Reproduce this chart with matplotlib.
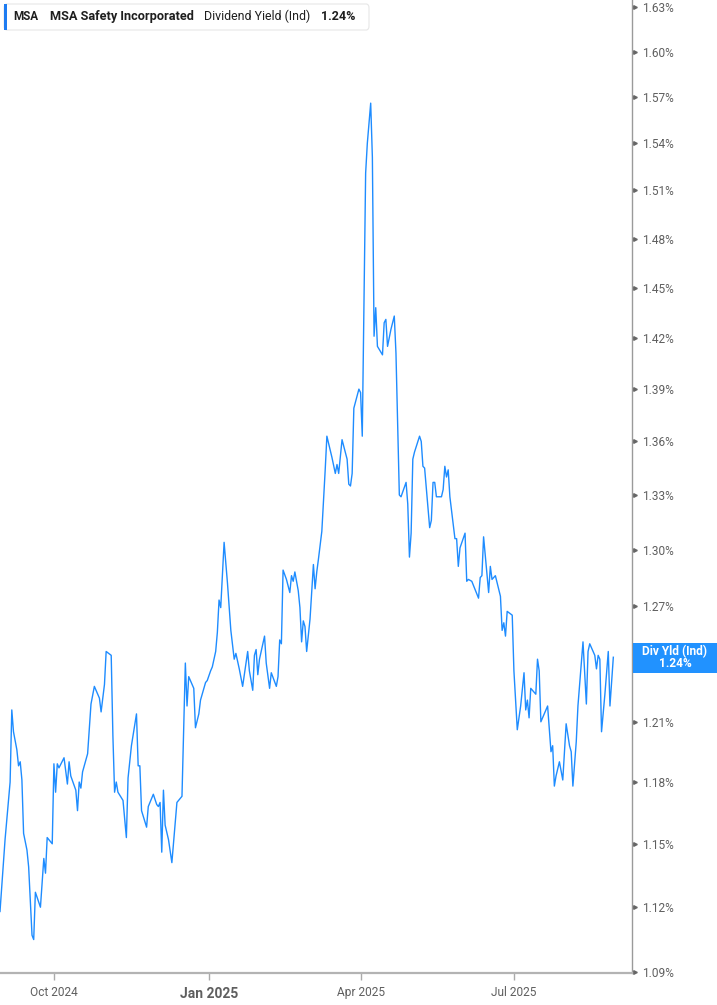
import matplotlib
matplotlib.use("Agg")
import matplotlib.pyplot as plt
import matplotlib.ticker as mticker
import matplotlib.transforms as mtransforms
from matplotlib.patches import FancyBboxPatch, Rectangle
import pandas as pd

plt.rcParams['font.family'] = ['Roboto', 'DejaVu Sans']

ticker_sym = "MSA"
company = "MSA Safety Incorporated"
metric = "Dividend Yield (Ind)"
last_label = "1.24%"
badge_title = "Div Yld (Ind)"

dates = [
    "2024-08-30", "2024-08-31", "2024-09-02", "2024-09-05", "2024-09-06", "2024-09-07",
    "2024-09-09", "2024-09-10", "2024-09-11", "2024-09-12", "2024-09-13", "2024-09-15",
    "2024-09-16", "2024-09-18", "2024-09-19", "2024-09-20", "2024-09-23", "2024-09-25",
    "2024-09-26", "2024-09-27", "2024-09-30", "2024-10-01", "2024-10-02", "2024-10-03",
    "2024-10-04", "2024-10-07", "2024-10-09", "2024-10-10", "2024-10-11", "2024-10-14",
    "2024-10-15", "2024-10-16", "2024-10-17", "2024-10-18", "2024-10-21", "2024-10-23",
    "2024-10-25", "2024-10-28", "2024-10-29", "2024-10-31", "2024-11-01", "2024-11-04",
    "2024-11-05", "2024-11-06", "2024-11-07", "2024-11-08", "2024-11-11", "2024-11-13",
    "2024-11-14", "2024-11-16", "2024-11-19", "2024-11-20", "2024-11-21", "2024-11-22",
    "2024-11-25", "2024-11-26", "2024-11-29", "2024-12-01", "2024-12-02", "2024-12-03",
    "2024-12-04", "2024-12-05", "2024-12-06", "2024-12-08", "2024-12-10", "2024-12-13",
    "2024-12-16", "2024-12-17", "2024-12-18", "2024-12-19", "2024-12-20", "2024-12-23",
    "2024-12-24", "2024-12-26", "2024-12-27", "2024-12-30", "2024-12-31", "2025-01-02",
    "2025-01-03", "2025-01-05", "2025-01-06", "2025-01-07", "2025-01-08", "2025-01-10",
    "2025-01-12", "2025-01-14", "2025-01-16", "2025-01-17", "2025-01-19", "2025-01-21",
    "2025-01-24", "2025-01-25", "2025-01-27", "2025-01-28", "2025-01-29", "2025-01-30",
    "2025-01-31", "2025-02-03", "2025-02-04", "2025-02-06", "2025-02-07", "2025-02-10",
    "2025-02-11", "2025-02-12", "2025-02-13", "2025-02-14", "2025-02-16", "2025-02-18",
    "2025-02-19", "2025-02-20", "2025-02-21", "2025-02-23", "2025-02-24", "2025-02-25",
    "2025-02-26", "2025-02-27", "2025-02-28", "2025-03-02", "2025-03-03", "2025-03-04",
    "2025-03-05", "2025-03-06", "2025-03-07", "2025-03-09", "2025-03-11", "2025-03-12",
    "2025-03-15", "2025-03-17", "2025-03-18", "2025-03-19", "2025-03-21", "2025-03-24",
    "2025-03-25", "2025-03-26", "2025-03-27", "2025-03-28", "2025-03-31", "2025-04-01",
    "2025-04-02", "2025-04-04", "2025-04-05", "2025-04-07", "2025-04-08", "2025-04-09",
    "2025-04-10", "2025-04-11", "2025-04-14", "2025-04-15", "2025-04-16", "2025-04-17",
    "2025-04-19", "2025-04-21", "2025-04-22", "2025-04-24", "2025-04-25", "2025-04-28",
    "2025-04-29", "2025-04-30", "2025-05-01", "2025-05-02", "2025-05-03", "2025-05-06",
    "2025-05-07", "2025-05-08", "2025-05-09", "2025-05-11", "2025-05-12", "2025-05-13",
    "2025-05-14", "2025-05-15", "2025-05-16", "2025-05-19", "2025-05-20", "2025-05-21",
    "2025-05-22", "2025-05-23", "2025-05-24", "2025-05-27", "2025-05-28", "2025-05-29",
    "2025-05-30", "2025-06-02", "2025-06-03", "2025-06-04", "2025-06-06", "2025-06-10",
    "2025-06-11", "2025-06-12", "2025-06-13", "2025-06-14", "2025-06-16", "2025-06-17",
    "2025-06-18", "2025-06-20", "2025-06-23", "2025-06-24", "2025-06-25", "2025-06-26",
    "2025-06-27", "2025-06-30", "2025-07-01", "2025-07-03", "2025-07-05", "2025-07-07",
    "2025-07-08", "2025-07-09", "2025-07-10", "2025-07-11", "2025-07-14", "2025-07-15",
    "2025-07-16", "2025-07-17", "2025-07-21", "2025-07-23", "2025-07-24", "2025-07-25",
    "2025-07-26", "2025-07-28", "2025-07-30", "2025-08-01", "2025-08-03", "2025-08-04",
    "2025-08-05", "2025-08-07", "2025-08-08", "2025-08-11", "2025-08-13", "2025-08-14",
    "2025-08-15", "2025-08-18", "2025-08-19", "2025-08-20", "2025-08-21", "2025-08-22",
    "2025-08-24", "2025-08-26", "2025-08-27", "2025-08-29",
]

div_yield = [
    1.118, 1.129, 1.152, 1.180, 1.216, 1.205,
    1.196, 1.188, 1.190, 1.181, 1.155, 1.147,
    1.139, 1.107, 1.105, 1.127, 1.120, 1.143,
    1.136, 1.153, 1.150, 1.189, 1.175, 1.189,
    1.187, 1.192, 1.179, 1.190, 1.183, 1.176,
    1.166, 1.180, 1.177, 1.185, 1.194, 1.219,
    1.228, 1.222, 1.215, 1.229, 1.246, 1.244,
    1.203, 1.175, 1.180, 1.175, 1.171, 1.153,
    1.182, 1.198, 1.214, 1.188, 1.188, 1.166,
    1.158, 1.168, 1.174, 1.169, 1.168, 1.170,
    1.146, 1.176, 1.159, 1.152, 1.141, 1.170,
    1.173, 1.207, 1.240, 1.218, 1.233, 1.227,
    1.207, 1.214, 1.221, 1.230, 1.231, 1.236,
    1.238, 1.246, 1.256, 1.273, 1.269, 1.304,
    1.282, 1.257, 1.242, 1.245, 1.237, 1.228,
    1.246, 1.236, 1.226, 1.244, 1.247, 1.234,
    1.242, 1.254, 1.240, 1.227, 1.235, 1.228,
    1.233, 1.252, 1.250, 1.289, 1.284, 1.277,
    1.286, 1.283, 1.288, 1.278, 1.269, 1.251,
    1.262, 1.259, 1.246, 1.263, 1.277, 1.292,
    1.279, 1.288, 1.295, 1.310, 1.344, 1.363,
    1.351, 1.342, 1.347, 1.342, 1.361, 1.350,
    1.336, 1.335, 1.342, 1.379, 1.390, 1.388,
    1.363, 1.521, 1.540, 1.566, 1.531, 1.421,
    1.438, 1.415, 1.410, 1.429, 1.431, 1.415,
    1.425, 1.433, 1.411, 1.330, 1.329, 1.337,
    1.325, 1.296, 1.309, 1.350, 1.354, 1.363,
    1.360, 1.346, 1.345, 1.323, 1.312, 1.316,
    1.337, 1.337, 1.329, 1.329, 1.333, 1.346,
    1.340, 1.344, 1.329, 1.306, 1.306, 1.291,
    1.301, 1.309, 1.283, 1.284, 1.283, 1.274,
    1.285, 1.286, 1.307, 1.297, 1.277, 1.291,
    1.284, 1.286, 1.275, 1.257, 1.261, 1.254,
    1.267, 1.265, 1.236, 1.206, 1.218, 1.235,
    1.216, 1.221, 1.212, 1.227, 1.224, 1.242,
    1.236, 1.210, 1.218, 1.195, 1.198, 1.178,
    1.183, 1.190, 1.181, 1.209, 1.198, 1.195,
    1.178, 1.200, 1.218, 1.251, 1.219, 1.246,
    1.250, 1.244, 1.237, 1.244, 1.242, 1.205,
    1.224, 1.246, 1.218, 1.243,
]

y_ticks = [1.09, 1.12, 1.15, 1.18, 1.21, 1.24, 1.27, 1.30, 1.33, 1.36,
           1.39, 1.42, 1.45, 1.48, 1.51, 1.54, 1.57, 1.60, 1.63]
badge_value = 1.24  # tick covered by the value badge
x_tick_dates = ["2024-10-01", "2025-01-01", "2025-04-01", "2025-07-01"]
x_tick_labels = ["Oct 2024", "Jan 2025", "Apr 2025", "Jul 2025"]

LINE = "#1e8cff"
GRAY = "#5f5f5f"

W, H = 717, 1005
fig = plt.figure(figsize=(W / 100, H / 100), dpi=100)
ax = fig.add_axes([0, 32 / H, 632 / W, 1 - 32 / H])

x = pd.to_datetime(dates)
ax.plot(x, div_yield, color=LINE, lw=1.0)

ax.set_yscale("log")
ax.set_ylim(1.0897, 1.6348)
ax.set_xlim(pd.Timestamp("2024-08-30"), pd.Timestamp("2025-09-09 02:00"))

# y axis on the right
ax.yaxis.tick_right()
ax.yaxis.set_major_locator(mticker.FixedLocator(y_ticks))
ax.yaxis.set_minor_locator(mticker.NullLocator())
ax.set_yticklabels(["" if abs(v - badge_value) < 1e-9 else f"{v:.2f}%" for v in y_ticks])
ax.tick_params(axis="y", length=0, pad=7.5, labelsize=8.6, labelcolor=GRAY)

# small triangle tick markers on the right spine
trans_y = mtransforms.blended_transform_factory(ax.transAxes, ax.transData)
ax.plot([1.004] * len(y_ticks), y_ticks, linestyle="none", marker=">",
        markersize=2.6, color="#666666", transform=trans_y, clip_on=False)

# x axis
xt = pd.to_datetime(x_tick_dates)
ax.set_xticks(xt)
ax.set_xticklabels(x_tick_labels)
ax.xaxis.set_minor_locator(mticker.NullLocator())
ax.tick_params(axis="x", length=5, width=1.0, color="#aaaaaa", pad=4,
               labelsize=8.6, labelcolor=GRAY)
for lbl in ax.get_xticklabels():
    if lbl.get_text().startswith("Jan"):
        lbl.set_fontweight("bold")
        lbl.set_fontsize(10)
        lbl.set_y(-0.002)

for s in ["top", "left"]:
    ax.spines[s].set_visible(False)
ax.spines["bottom"].set_color("#b3b3b3")
ax.spines["bottom"].set_linewidth(1.6)
ax.spines["right"].set_color("#9a9a9a")
ax.spines["right"].set_linewidth(1.0)

# legend header box (figure pixel coords)
def fx(px):
    return px / W

def fy(py):
    return 1 - py / H

hdr = FancyBboxPatch((fx(4), fy(30)), fx(365), 26 / H,
                     boxstyle="round,pad=0,rounding_size=0.004",
                     transform=fig.transFigure, facecolor="white",
                     edgecolor="#e6e6e6", linewidth=0.8, zorder=5)
fig.add_artist(hdr)
bar = Rectangle((fx(4), fy(30)), fx(3), 26 / H, transform=fig.transFigure,
                facecolor="#1e7cf2", edgecolor="none", zorder=6)
fig.add_artist(bar)

renderer = fig.canvas.get_renderer()

def fitted_text(px, py, s, width_px, weight, size, color):
    t = fig.text(fx(px), fy(py), s, fontsize=size, fontweight=weight, color=color,
                 va="center", ha="left", zorder=7)
    w = t.get_window_extent(renderer=renderer).width
    if w > 0:
        t.set_fontsize(size * width_px / w)
    return t

ty = 16.5
fitted_text(13, ty, ticker_sym, 25, "bold", 9.2, "#1f1f1f")
fitted_text(50, ty, company, 143, "bold", 9.2, "#1f1f1f")
fitted_text(204, ty, metric, 106, "normal", 9.2, "#1f1f1f")
fitted_text(321.5, ty, last_label, 34, "bold", 9.2, "#1f1f1f")

# right value badge
badge = Rectangle((fx(633), fy(673)), fx(84), 30 / H, transform=fig.transFigure,
                  facecolor="#2192ff", edgecolor="none", zorder=8)
fig.add_artist(badge)
fig.text(fx(675), fy(652), badge_title, fontsize=8.6, fontweight="bold",
         color="white", ha="center", va="center", zorder=9)
fig.text(fx(675.5), fy(663.5), last_label, fontsize=8.6, fontweight="bold",
         color="white", ha="center", va="center", zorder=9)

fig.savefig("out.png", dpi=100)
